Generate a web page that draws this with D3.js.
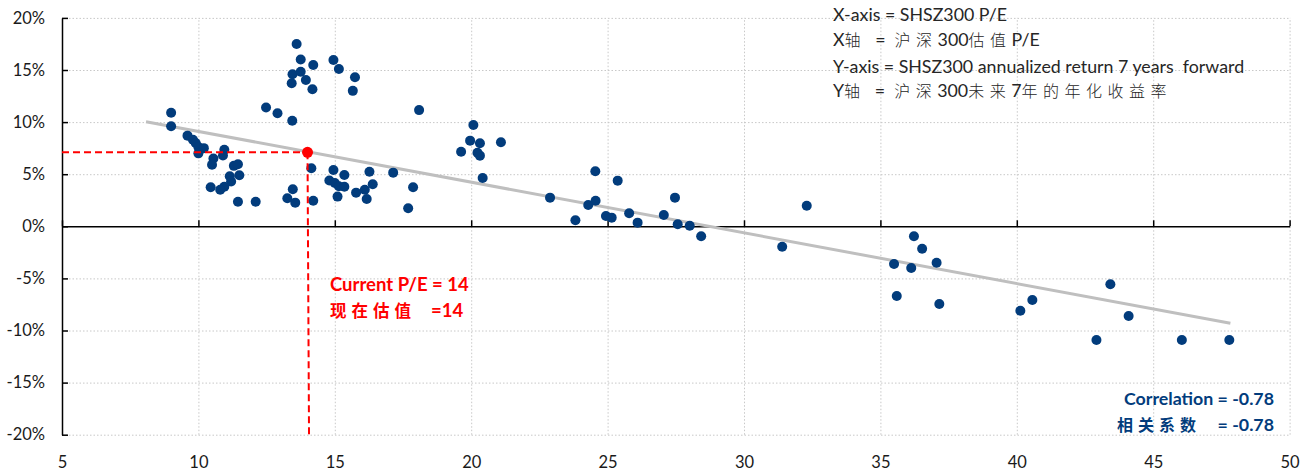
<!DOCTYPE html>
<html>
<head>
<meta charset="utf-8">
<script src="https://cdn.jsdelivr.net/npm/d3@7"></script>
<style>
  html, body { margin: 0; padding: 0; background: #fff; }
  svg { display: block; }
  text { font-family: Lato, "Noto Sans CJK SC", sans-serif; }
</style>
</head>
<body>
<svg id="chart" width="1307" height="476"></svg>
<script>
// SHSZ300 P/E (x) vs. annualized return 7 years forward (y, %)
const peValues = [
  9.0, 9.0, 9.6, 9.8, 9.9, 10.0, 10.2, 10.0, 10.95, 10.9, 10.55, 10.5, 11.3, 11.45,
  11.15, 11.5, 11.2, 10.95, 10.8, 10.45, 11.45, 12.1,
  12.48, 12.9, 13.44, 13.6, 13.75, 14.21, 13.45, 13.75, 13.94, 13.42, 14.18,
  14.95, 15.15, 15.74, 15.66, 14.14, 13.46, 13.26, 13.55, 14.21,
  14.95, 15.35, 14.8, 15.0, 15.15, 15.35, 15.1,
  15.78, 16.1, 16.17, 16.39, 16.27, 17.14, 17.87, 17.69, 18.09,
  20.08, 19.96, 20.32, 21.09, 19.63, 20.23, 20.32, 20.42,
  22.89, 23.82, 24.55, 24.29, 24.56, 24.94, 25.15, 25.37, 25.79, 26.1, 27.06, 27.47,
  27.57, 28.01, 28.43,
  32.3, 31.4, 36.23, 36.53, 35.5, 36.13, 37.06, 35.6, 37.16,
  40.13, 40.57, 43.43, 44.1, 42.92, 46.05, 47.79
];
const returnValues = [
  10.9, 9.6, 8.7, 8.3, 8.0, 7.6, 7.5, 7.0, 7.35, 6.8, 6.5, 5.9, 5.8, 5.95,
  4.8, 4.9, 4.3, 3.8, 3.5, 3.75, 2.35, 2.35,
  11.4, 10.85, 10.13, 17.5, 16.0, 15.48, 14.6, 14.84, 14.04, 13.72, 13.15,
  15.96, 15.1, 14.3, 13.0, 5.57, 3.55, 2.69, 2.27, 2.46,
  5.4, 4.92, 4.4, 4.15, 3.85, 3.8, 2.85,
  3.23, 3.5, 2.62, 4.03, 5.24, 5.15, 3.74, 1.73, 11.15,
  9.72, 8.22, 7.97, 8.06, 7.16, 7.06, 6.78, 4.64,
  2.75, 0.58, 5.28, 2.04, 2.46, 0.99, 0.83, 4.38, 1.25, 0.35, 1.08, 2.75,
  0.19, 0.06, -0.96,
  1.98, -1.96, -0.96, -2.15, -3.62, -4.0, -3.49, -6.69, -7.46,
  -8.1, -7.07, -5.57, -8.61, -10.91, -10.91, -10.91
];

// Current valuation marker
const currentPE = 14;
const currentReturn = 7.1;

// Fitted trend line end points
const trendPE = [8.08, 47.83];
const trendReturn = [10.04, -9.31];

// Axis ticks
const xTicks = [5, 10, 15, 20, 25, 30, 35, 40, 45, 50];
const yTicks = [-20, -15, -10, -5, 0, 5, 10, 15, 20];

const notes = [
  "X-axis = SHSZ300 P/E",
  "X轴  =  沪深300估值P/E",
  "Y-axis = SHSZ300 annualized return 7 years  forward",
  "Y轴  =  沪深300未来7年的年化收益率"
];
const currentLabel = ["Current P/E = 14", "现在估值", "=14"];
const corrLabel = ["Correlation = -0.78", "相关系数", "= -0.78"];

const svg = d3.select("#chart");
const x = d3.scaleLinear().domain([5, 50]).range([62, 1289.6]);
const y = d3.scaleLinear().domain([-20, 20]).range([434.7, 17.9]);

const navy = "#023C7C";
const red = "#FF0000";

// Dotted gridlines
const grid = svg.append("g");
grid.append("g")
  .attr("transform", `translate(0,${y(-20)})`)
  .call(d3.axisBottom(x).tickValues(xTicks.filter(d => d !== 5))
    .tickSize(-(y(-20) - y(20))).tickFormat(""))
  .call(g => g.select(".domain").remove());
grid.append("g")
  .attr("transform", `translate(${x(5)},0)`)
  .call(d3.axisLeft(y).tickValues(yTicks.filter(d => d !== 0))
    .tickSize(-(x(50) - x(5))).tickFormat(""))
  .call(g => g.select(".domain").remove());
grid.selectAll("line")
  .attr("stroke", "#c8c8c8")
  .attr("stroke-width", 1)
  .attr("stroke-dasharray", "1.5,2");

// Y axis with inward ticks
const yAxis = svg.append("g")
  .attr("transform", `translate(${x(5)},0)`)
  .call(d3.axisLeft(y).tickValues(yTicks).tickSizeInner(-6).tickSizeOuter(0)
    .tickPadding(17).tickFormat(d => d + "%"));
yAxis.select(".domain").attr("stroke", "#000").attr("stroke-width", 1.5);
yAxis.selectAll(".tick line").attr("stroke", "#000").attr("stroke-width", 1.5);
yAxis.selectAll("text").attr("font-size", 16.5).attr("fill", "#1a1a1a")
  .attr("font-family", "Lato, sans-serif");

// X axis line at zero with upward ticks
const xAxis = svg.append("g")
  .attr("transform", `translate(0,${y(0)})`)
  .call(d3.axisBottom(x).tickValues(xTicks).tickSizeInner(-6).tickSizeOuter(0).tickFormat(""));
xAxis.select(".domain").attr("stroke", "#000").attr("stroke-width", 1.5);
xAxis.selectAll(".tick line").attr("stroke", "#000").attr("stroke-width", 1.5);

// X tick labels along the bottom edge
const xLabels = svg.append("g")
  .attr("transform", `translate(0,${y(-20)})`)
  .call(d3.axisBottom(x).tickValues(xTicks).tickSize(0).tickPadding(22));
xLabels.select(".domain").remove();
xLabels.selectAll("text").attr("font-size", 16.5).attr("fill", "#1a1a1a")
  .attr("font-family", "Lato, sans-serif");

// Trend line
svg.append("line")
  .attr("x1", x(trendPE[0])).attr("y1", y(trendReturn[0]))
  .attr("x2", x(trendPE[1])).attr("y2", y(trendReturn[1]))
  .attr("stroke", "#bfbfbf").attr("stroke-width", 3);

// Scatter points
const points = peValues.map((pe, i) => ({ pe, r: returnValues[i] }));
svg.append("g").selectAll("circle")
  .data(points)
  .join("circle")
  .attr("cx", d => x(d.pe))
  .attr("cy", d => y(d.r))
  .attr("r", 5)
  .attr("fill", navy);

// Current valuation guides
svg.append("path")
  .attr("d", `M${x(5)},${y(currentReturn)}H${x(currentPE)}`)
  .attr("stroke", red).attr("stroke-width", 2).attr("stroke-dasharray", "7,4").attr("fill", "none");
svg.append("path")
  .attr("d", `M${x(currentPE)},${y(currentReturn)}L${x(currentPE) + 1.5},${y(-20)}`)
  .attr("stroke", red).attr("stroke-width", 2).attr("stroke-dasharray", "7,4").attr("fill", "none");
svg.append("circle")
  .attr("cx", x(currentPE)).attr("cy", y(currentReturn)).attr("r", 5.5).attr("fill", red);

// Writes a line where runs of CJK characters get extra spacing
function mixedLine(sel, str, cjkSpacing) {
  const runs = str.match(/[\u4e00-\u9fff]+|[^\u4e00-\u9fff]+/g);
  runs.forEach(run => {
    const isCjk = /[\u4e00-\u9fff]/.test(run);
    sel.append("tspan")
      .attr("letter-spacing", isCjk ? cjkSpacing : 0)
      .attr("font-family", isCjk ? "'Noto Sans CJK SC', sans-serif" : "Lato, sans-serif")
      .attr("font-size", isCjk ? 16 : 17.8)
      .attr("font-weight", isCjk ? 300 : 400)
      .attr("xml:space", "preserve")
      .text(run);
  });
}

// Legend notes in the top-right corner
const noteY = [21, 46, 73, 97];
notes.forEach((t, i) => {
  const txt = svg.append("text")
    .attr("x", 833).attr("y", noteY[i])
    .attr("fill", "#262626")
    .style("white-space", "pre");
  mixedLine(txt, t, 5.5);
});

// Current P/E annotation
svg.append("text")
  .attr("x", 330).attr("y", 291)
  .attr("fill", red).attr("font-weight", 700).attr("font-size", 18.5)
  .attr("font-family", "Lato, sans-serif")
  .text(currentLabel[0]);
const cur2 = svg.append("text").attr("y", 317).attr("fill", red).attr("font-weight", 700);
cur2.append("tspan").attr("x", 330).attr("font-size", 16.5).attr("letter-spacing", 5)
  .attr("font-family", "'Noto Sans CJK SC', sans-serif").text(currentLabel[1]);
cur2.append("tspan").attr("x", 431).attr("font-size", 18.5)
  .attr("font-family", "Lato, sans-serif").text(currentLabel[2]);

// Correlation annotation
svg.append("text")
  .attr("x", 1274).attr("y", 405).attr("text-anchor", "end")
  .attr("fill", navy).attr("font-weight", 700).attr("font-size", 17.8)
  .attr("font-family", "Lato, sans-serif")
  .text(corrLabel[0]);
svg.append("text")
  .attr("x", 1117).attr("y", 431).attr("fill", navy).attr("font-weight", 700)
  .attr("font-size", 16).attr("letter-spacing", 5)
  .attr("font-family", "'Noto Sans CJK SC', sans-serif")
  .text(corrLabel[1]);
svg.append("text")
  .attr("x", 1274).attr("y", 431).attr("text-anchor", "end")
  .attr("fill", navy).attr("font-weight", 700).attr("font-size", 17.8)
  .attr("font-family", "Lato, sans-serif")
  .text(corrLabel[2]);
</script>
</body>
</html>
